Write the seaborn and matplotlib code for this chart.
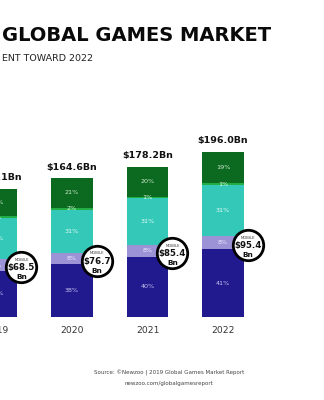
import matplotlib
matplotlib.use("Agg")
import matplotlib.pyplot as plt
import seaborn as sns
import numpy as np
import pandas as pd

years = ["2019", "2020", "2021", "2022"]
totals = [152.1, 164.6, 178.2, 196.0]
mobile_totals = [68.5, 76.7, 85.4, 95.4]
segments = ["Smartphone", "Tablet", "Console", "Browser PC", "Boxed/Downloaded PC"]
smartphone_pct = [36, 38, 40, 41]
tablet_pct = [9, 8, 8, 8]
console_pct = [32, 31, 31, 31]
browser_pct = [2, 2, 1, 1]
pc_pct = [21, 21, 20, 19]

title = "GLOBAL GAMES MARKET"
subtitle = "ENT TOWARD 2022"
source1 = "Source: \u00a9Newzoo | 2019 Global Games Market Report"
source2 = "newzoo.com/globalgamesreport"

colors = ["#21198e", "#9b93d6", "#33c8b7", "#22ad45", "#0b6a1f"]
text_colors = ["#c9c6f0", "#eeeeff", "#e8fbf8", "#e8ffe8", "#cfe8d2"]

sns.set_theme(style="white")
plt.rcParams["font.family"] = ["DejaVu Sans"]

fig = plt.figure(figsize=(3.24, 4.0), dpi=100)
fig.patch.set_facecolor("white")
ax = fig.add_axes([0, (400 - 317) / 400, 1, 217 / 400])

pcts = [smartphone_pct, tablet_pct, console_pct, browser_pct, pc_pct]
tot = np.array(totals)
bottom = np.zeros(len(years))
seg_info = []
for name, p, c in zip(segments, pcts, colors):
    h = np.array(p) / 100.0 * tot
    df = pd.DataFrame({"year": years, "value": h})
    sns.barplot(data=df, x="year", y="value", color=c, saturation=1,
                errorbar=None, width=0.545, bottom=bottom.copy(), ax=ax,
                linewidth=0)
    seg_info.append((bottom.copy(), h.copy()))
    bottom = bottom + h

# percentage labels
for si, (b, h) in enumerate(seg_info):
    for i in range(len(years)):
        ax.text(i, b[i] + h[i] / 2, f"{pcts[si][i]}%", ha="center", va="center",
                fontsize=4.6, color=text_colors[si])

# totals
for i, t in enumerate(totals):
    ax.annotate(f"${t:.1f}Bn", xy=(i, t), xytext=(0, 8), textcoords="offset points",
                ha="center", va="center", fontsize=6.8, fontweight="bold", color="#111111",
                annotation_clip=False)

# year labels
for i, yr in enumerate(years):
    ax.annotate(yr, xy=(i, 0), xytext=(0, -10), textcoords="offset points",
                ha="center", va="center", fontsize=6.6, color="#333333",
                annotation_clip=False)

# mobile circles
sm_top = seg_info[0][0] + seg_info[0][1]
tab_h = seg_info[1][1]
cx = np.arange(len(years)) + 0.33
cy = sm_top + 0.3 * tab_h
ax.scatter(cx, cy, s=480, facecolor="white", edgecolor="black", linewidth=2.0,
           zorder=5, clip_on=False)
for i, m in enumerate(mobile_totals):
    ax.annotate("MOBILE", xy=(cx[i], cy[i]), xytext=(0, 5.5), textcoords="offset points",
                ha="center", va="center", fontsize=2.7, color="#333333", zorder=6,
                annotation_clip=False)
    ax.annotate(f"${m:.1f}", xy=(cx[i], cy[i]), xytext=(0, -0.3), textcoords="offset points",
                ha="center", va="center", fontsize=6.2, fontweight="bold", color="#111111",
                zorder=6, annotation_clip=False)
    ax.annotate("Bn", xy=(cx[i], cy[i]), xytext=(0, -7), textcoords="offset points",
                ha="center", va="center", fontsize=5.3, fontweight="bold", color="#111111",
                zorder=6, annotation_clip=False)

ax.set_xlim(0.046, 4.338)
ax.set_ylim(0, 217 / 0.842)
ax.set_xlabel("")
ax.set_ylabel("")
ax.set_yticks([])
ax.set_xticks([])
sns.despine(ax=ax, left=True, bottom=True)
ax.set_facecolor("white")

fig.text(2 / 324, 1 - 35.5 / 400, title, ha="left", va="center", fontsize=14,
         fontweight="bold", color="#0a0a0a")
fig.text(2 / 324, 1 - 58.5 / 400, subtitle, ha="left", va="center", fontsize=6.8,
         color="#222222")
fig.text(169 / 324, 1 - 373 / 400, source1, ha="center", va="center", fontsize=4.0,
         color="#444444")
fig.text(169 / 324, 1 - 383 / 400, source2, ha="center", va="center", fontsize=4.0,
         color="#444444")

fig.savefig("out.png", dpi=100, facecolor="white")
